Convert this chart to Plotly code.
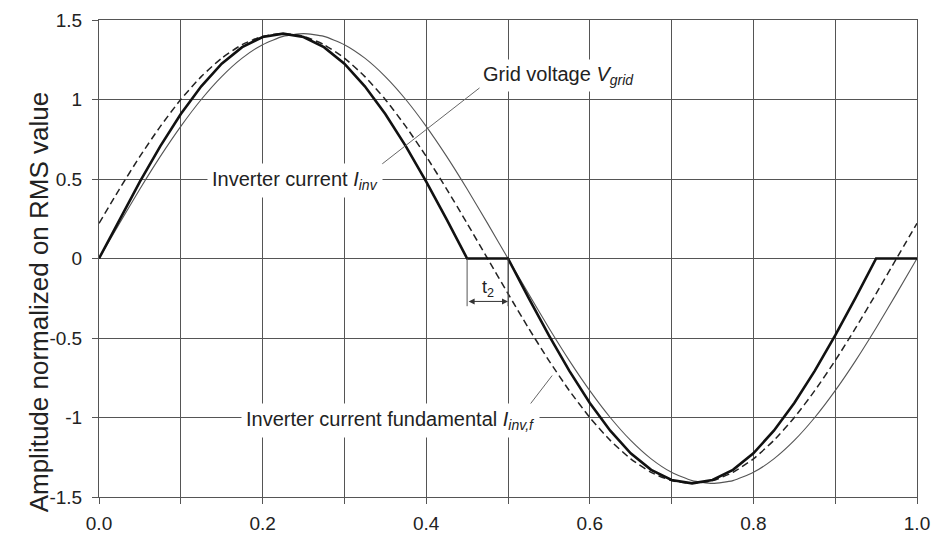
import plotly.graph_objects as go

# Normalised time over one grid period
t = [0.000, 0.025, 0.050, 0.075, 0.100, 0.125, 0.150, 0.175, 0.200, 0.225,
     0.250, 0.275, 0.300, 0.325, 0.350, 0.375, 0.400, 0.425, 0.450, 0.475,
     0.500, 0.525, 0.550, 0.575, 0.600, 0.625, 0.650, 0.675, 0.700, 0.725,
     0.750, 0.775, 0.800, 0.825, 0.850, 0.875, 0.900, 0.925, 0.950, 0.975,
     1.000]

# Grid voltage V_grid (thin solid)
v_grid = [0.000, 0.221, 0.437, 0.642, 0.831, 1.000, 1.144, 1.260, 1.345, 1.397,
          1.414, 1.397, 1.345, 1.260, 1.144, 1.000, 0.831, 0.642, 0.437, 0.221,
          0.000, -0.221, -0.437, -0.642, -0.831, -1.000, -1.144, -1.260, -1.345, -1.397,
          -1.414, -1.397, -1.345, -1.260, -1.144, -1.000, -0.831, -0.642, -0.437, -0.221,
          0.000]

# Inverter current fundamental I_inv,f (dashed)
i_fund = [0.221, 0.437, 0.642, 0.831, 1.000, 1.144, 1.260, 1.345, 1.397, 1.414,
          1.397, 1.345, 1.260, 1.144, 1.000, 0.831, 0.642, 0.437, 0.221, 0.000,
          -0.221, -0.437, -0.642, -0.831, -1.000, -1.144, -1.260, -1.345, -1.397, -1.414,
          -1.397, -1.345, -1.260, -1.144, -1.000, -0.831, -0.642, -0.437, -0.221, 0.000,
          0.221]

# Inverter current I_inv (thick solid) with zero-current interval t2
i_inv = [0.000, 0.246, 0.484, 0.707, 0.909, 1.083, 1.225, 1.329, 1.393, 1.414,
         1.393, 1.329, 1.225, 1.083, 0.909, 0.707, 0.484, 0.246, 0.000, 0.000,
         0.000, -0.246, -0.484, -0.707, -0.909, -1.083, -1.225, -1.329, -1.393, -1.414,
         -1.393, -1.329, -1.225, -1.083, -0.909, -0.707, -0.484, -0.246, 0.000, 0.000,
         0.000]

x_ticks = [0.0, 0.1, 0.2, 0.3, 0.4, 0.5, 0.6, 0.7, 0.8, 0.9, 1.0]
x_tick_text = ["0.0", "", "0.2", "", "0.4", "", "0.6", "", "0.8", "", "1.0"]
y_ticks = [-1.5, -1.0, -0.5, 0.0, 0.5, 1.0, 1.5]
y_tick_text = ["-1.5", "-1", "-0.5", "0", "0.5", "1", "1.5"]

# Zero-current interval boundaries
t2_start, t2_end = 0.45, 0.50

FONT = "Liberation Sans, Arial, sans-serif"
GRID = "#555555"
TXT = "#222222"

fig = go.Figure()
fig.add_trace(go.Scatter(x=t, y=v_grid, mode="lines", line=dict(color="#555555", width=1.1, shape="spline", smoothing=0.6),
                         name="Grid voltage", showlegend=False))
fig.add_trace(go.Scatter(x=t, y=i_fund, mode="lines", line=dict(color="#222222", width=1.5, dash="7px,4px", shape="spline", smoothing=0.6),
                         name="Fundamental", showlegend=False))
fig.add_trace(go.Scatter(x=t, y=i_inv, mode="lines", line=dict(color="#111111", width=2.6),
                         name="Inverter current", showlegend=False))

# leader lines and t2 markers
shapes = [
    dict(type="line", x0=0.339, y0=0.566, x1=0.469, y1=1.088, line=dict(color="#666666", width=1)),
    dict(type="line", x0=0.524, y0=-0.937, x1=0.554, y1=-0.736, line=dict(color="#666666", width=1)),
    dict(type="line", x0=t2_start, y0=0.0, x1=t2_start, y1=-0.30, line=dict(color="#555555", width=1)),
    dict(type="line", x0=t2_end, y0=0.0, x1=t2_end, y1=-0.30, line=dict(color="#555555", width=1)),
]

label_font = dict(family=FONT, size=20, color=TXT)
annotations = [
    dict(x=0.562, y=1.151, text="Grid voltage <i>V</i><sub><i>grid</i></sub>", showarrow=False,
         font=label_font, bgcolor="white", borderpad=3),
    dict(x=0.240, y=0.49, text="Inverter current <i>I</i><sub><i>inv</i></sub>", showarrow=False,
         font=label_font, bgcolor="white", borderpad=4),
    dict(x=0.356, y=-1.02, text="Inverter current fundamental <i>I</i><sub><i>inv,f</i></sub>", showarrow=False,
         font=label_font, bgcolor="white", borderpad=4),
    dict(x=0.475, y=-0.19, text="t<sub>2</sub>", showarrow=False, font=dict(family=FONT, size=18, color=TXT)),
    dict(x=t2_end, y=-0.27, ax=t2_start, ay=-0.27, axref="x", ayref="y", text="", showarrow=True,
         arrowside="end+start", arrowhead=2, arrowsize=1.2, arrowwidth=1, arrowcolor="#333333"),
    dict(x=-0.093, y=0.41, xref="paper", yref="paper", text="Amplitude normalized on RMS value",
         textangle=-90, showarrow=False, font=dict(family=FONT, size=26, color=TXT)),
]

fig.update_layout(
    width=934, height=535,
    margin=dict(l=99, r=17, t=20, b=38),
    paper_bgcolor="white", plot_bgcolor="white",
    shapes=shapes, annotations=annotations,
    xaxis=dict(range=[0, 1], tickvals=x_ticks, ticktext=x_tick_text, ticks="outside", ticklen=6,
               tickcolor=GRID, showgrid=True, gridcolor=GRID, gridwidth=1, zeroline=False,
               showline=True, mirror=True, linecolor=GRID, linewidth=1, ticklabelstandoff=3,
               automargin=False, tickfont=dict(family=FONT, size=19, color=TXT)),
    yaxis=dict(range=[-1.5, 1.5], tickvals=y_ticks, ticktext=y_tick_text, ticks="outside", ticklen=6,
               tickcolor=GRID, showgrid=True, gridcolor=GRID, gridwidth=1, zeroline=False,
               showline=True, mirror=True, linecolor=GRID, linewidth=1, ticklabelstandoff=6,
               automargin=False, tickfont=dict(family=FONT, size=19, color=TXT)),
)

fig.write_html("out.html")
